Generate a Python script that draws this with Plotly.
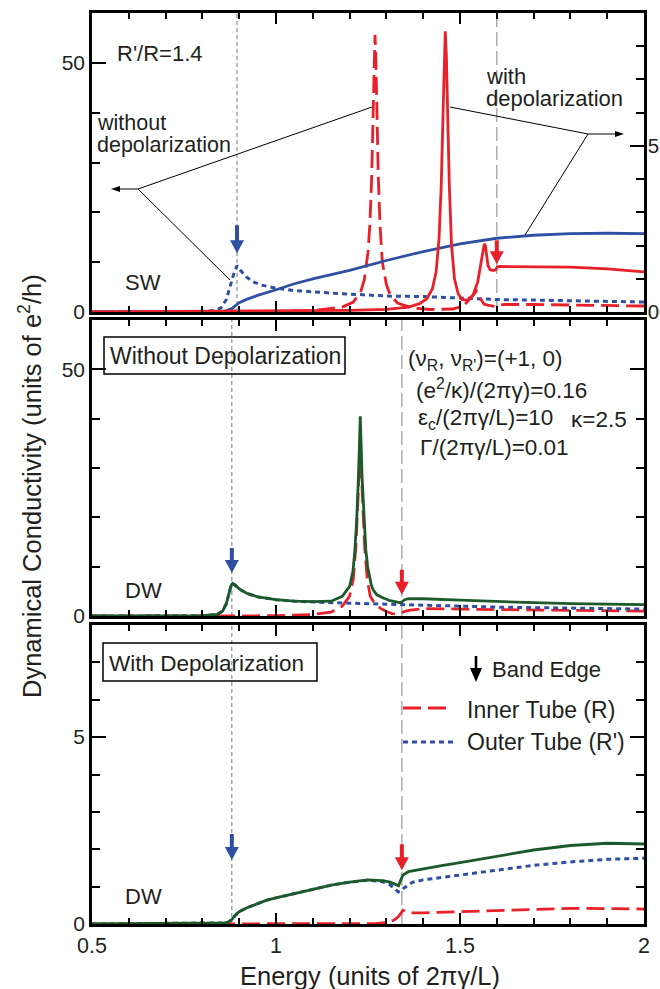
import plotly.graph_objects as go

FONT = "Liberation Sans, Arial, Helvetica, sans-serif"
TXT = "#231f20"
RED = "#e8202a"
BLUE = "#2f4fa2"
GREEN = "#1c5a2a"

# ---------------- axis ticks ----------------
x_tick_vals = [0.5, 1.0, 1.5, 2.0]
x_tick_text = ["0.5", "1", "1.5", "2"]
y_big_ticks = [0, 50]
y_small_ticks = [0, 5]

# ---------------- band edges ----------------
sw_edges = [0.894, 1.600]     # outer (R'), inner (R)
dw_edges = [0.880, 1.342]

# ---------------- SW panel (top) ----------------
# without depolarization, outer tube (left axis)
sw_out_wo_x = [0.5, 0.7, 0.8, 0.83, 0.85, 0.865, 0.875, 0.885, 0.894, 0.905, 0.92, 0.94, 0.96,
               1.0, 1.05, 1.1, 1.15, 1.2, 1.3, 1.4, 1.5, 1.6, 1.7, 1.8, 1.9, 2.0]
sw_out_wo_y = [0.0, 0.0, 0.1, 0.3, 0.8, 2.5, 5.0, 7.6, 9.3, 8.2, 7.0, 6.0, 5.4,
               4.8, 4.3, 4.0, 3.8, 3.6, 3.2, 3.1, 2.8, 2.5, 2.4, 2.3, 2.1, 2.0]
# without depolarization, inner tube (left axis)
sw_in_wo_x = [0.5, 0.9, 1.1, 1.18, 1.21, 1.23, 1.24, 1.25, 1.255, 1.26, 1.264, 1.267, 1.269,
              1.271, 1.274, 1.278, 1.283, 1.289, 1.3, 1.31, 1.33, 1.37, 1.42, 1.48, 1.51,
              1.525, 1.545, 1.555, 1.565, 1.575, 1.585, 1.595, 1.605, 1.62, 1.7, 1.8, 1.9, 2.0]
sw_in_wo_y = [0.0, 0.0, 0.3, 1.0, 2.0, 4.0, 6.5, 12.0, 17.5, 27.0, 40.0, 52.0, 55.6,
              52.0, 40.0, 27.0, 17.0, 10.0, 5.5, 3.5, 1.8, 0.8, 0.5, 0.6, 1.2,
              2.5, 4.2, 2.8, 1.6, 1.4, 1.2, 1.1, 1.4, 1.5, 1.5, 1.4, 1.3, 1.2]
# with depolarization, outer tube (right axis)
sw_out_w_x = [0.5, 0.8, 0.86, 0.88, 0.89, 0.9, 0.92, 0.95, 1.0, 1.05, 1.1, 1.15, 1.2,
              1.3, 1.4, 1.5, 1.6, 1.7, 1.8, 1.9, 2.0]
sw_out_w_y = [0.0, 0.0, 0.02, 0.1, 0.2, 0.28, 0.38, 0.5, 0.67, 0.85, 1.0, 1.12, 1.25,
              1.55, 1.82, 2.05, 2.22, 2.31, 2.36, 2.37, 2.36]
# with depolarization, inner tube (right axis)
sw_in_w_x = [0.5, 1.0, 1.2, 1.3, 1.36, 1.39, 1.41, 1.425, 1.435, 1.443, 1.449, 1.454, 1.457,
             1.460, 1.463, 1.466, 1.471, 1.477, 1.485, 1.495, 1.505, 1.52, 1.535, 1.548,
             1.556, 1.562, 1.566, 1.569, 1.572, 1.576, 1.582, 1.59, 1.597, 1.601, 1.606,
             1.62, 1.7, 1.8, 1.9, 2.0]
sw_in_w_y = [0.0, 0.02, 0.05, 0.08, 0.15, 0.25, 0.4, 0.7, 1.2, 2.2, 3.8, 6.0, 7.7,
             8.45, 7.7, 6.0, 3.8, 2.0, 1.0, 0.55, 0.38, 0.35, 0.5, 0.9,
             1.4, 1.8, 2.05, 2.0, 1.7, 1.4, 1.27, 1.25, 1.27, 1.35, 1.37,
             1.37, 1.37, 1.35, 1.3, 1.21]

# ---------------- DW without depolarization (middle) ----------------
dw_wo_tot_x = [0.5, 0.8, 0.84, 0.855, 0.865, 0.872, 0.878, 0.882, 0.89, 0.9, 0.92, 0.95,
               1.0, 1.05, 1.1, 1.15, 1.18, 1.2, 1.209, 1.214, 1.219, 1.224, 1.229, 1.234,
               1.239, 1.244, 1.249, 1.254, 1.259, 1.264, 1.274, 1.29, 1.31, 1.33, 1.338,
               1.343, 1.35, 1.36, 1.4, 1.5, 1.6, 1.7, 1.8, 1.9, 2.0]
dw_wo_tot_y = [0.0, 0.05, 0.3, 1.0, 2.5, 4.5, 6.2, 6.6, 6.2, 5.5, 4.6, 3.9,
               3.3, 3.0, 2.9, 3.0, 4.0, 6.0, 9.0, 13.0, 19.0, 28.0, 40.5, 28.0,
               19.0, 13.5, 10.0, 7.8, 6.3, 5.3, 4.3, 3.7, 3.1, 2.8, 2.7,
               2.9, 3.3, 3.5, 3.5, 3.2, 2.9, 2.7, 2.5, 2.4, 2.3]
dw_wo_out_x = [0.5, 0.8, 0.84, 0.855, 0.865, 0.872, 0.878, 0.882, 0.89, 0.9, 0.92, 0.95,
               1.0, 1.05, 1.1, 1.15, 1.2, 1.25, 1.3, 1.35, 1.4, 1.5, 1.6, 1.7, 1.8, 1.9, 2.0]
dw_wo_out_y = [0.0, 0.05, 0.3, 1.0, 2.5, 4.5, 6.2, 6.6, 6.2, 5.5, 4.6, 3.9,
               3.3, 3.0, 2.8, 2.7, 2.6, 2.5, 2.4, 2.3, 2.2, 1.9, 1.8, 1.7, 1.6, 1.5, 1.4]
dw_wo_in_x = [0.5, 1.0, 1.1, 1.15, 1.18, 1.2, 1.21, 1.217, 1.223, 1.229, 1.235, 1.241,
              1.248, 1.256, 1.27, 1.283, 1.3, 1.315, 1.328, 1.34, 1.352, 1.365, 1.4,
              1.45, 1.5, 1.6, 1.7, 1.8, 1.9, 2.0]
dw_wo_in_y = [0.0, 0.05, 0.3, 0.8, 2.0, 4.0, 7.5, 14.0, 24.0, 34.0, 24.0, 14.0,
              7.5, 4.0, 2.4, 1.6, 0.9, 0.5, 0.4, 0.6, 1.0, 1.2, 1.5,
              1.5, 1.4, 1.3, 1.2, 1.1, 1.0, 1.0]

# ---------------- DW with depolarization (bottom) ----------------
dw_w_tot_x = [0.5, 0.8, 0.84, 0.86, 0.87, 0.88, 0.89, 0.9, 0.92, 0.95, 0.975, 1.0, 1.05,
              1.1, 1.15, 1.2, 1.25, 1.29, 1.31, 1.325, 1.333, 1.338, 1.345, 1.36, 1.4,
              1.45, 1.5, 1.6, 1.7, 1.8, 1.9, 2.0]
dw_w_tot_y = [0.0, 0.01, 0.02, 0.03, 0.05, 0.12, 0.24, 0.33, 0.43, 0.55, 0.64, 0.7, 0.82,
              0.93, 1.04, 1.12, 1.18, 1.16, 1.12, 1.06, 1.02, 1.15, 1.31, 1.40, 1.48,
              1.56, 1.64, 1.82, 1.98, 2.1, 2.16, 2.14]
dw_w_out_x = [0.5, 0.8, 0.84, 0.86, 0.87, 0.88, 0.89, 0.9, 0.92, 0.95, 0.975, 1.0, 1.05,
              1.1, 1.15, 1.2, 1.25, 1.29, 1.31, 1.325, 1.332, 1.34, 1.345, 1.36, 1.372,
              1.4, 1.446, 1.5, 1.6, 1.7, 1.8, 1.9, 2.0]
dw_w_out_y = [0.0, 0.01, 0.02, 0.03, 0.05, 0.12, 0.24, 0.33, 0.43, 0.55, 0.64, 0.7, 0.82,
              0.93, 1.04, 1.12, 1.17, 1.13, 1.05, 0.92, 0.86, 0.88, 0.94, 1.05, 1.12,
              1.18, 1.24, 1.32, 1.45, 1.57, 1.66, 1.73, 1.76]
dw_w_in_x = [0.5, 1.2, 1.27, 1.3, 1.32, 1.333, 1.34, 1.345, 1.352, 1.365, 1.4, 1.5,
             1.6, 1.7, 1.8, 1.9, 2.0]
dw_w_in_y = [0.0, 0.0, 0.01, 0.04, 0.1, 0.2, 0.3, 0.37, 0.34, 0.3, 0.3, 0.33,
             0.37, 0.4, 0.42, 0.41, 0.4]

# arrow tip heights (in each panel's left-axis units)
sw_arrow_tips = [11.8, 9.6]
dw_wo_arrow_tips = [8.7, 4.3]
dw_w_arrow_tips = [1.71, 1.44]

# ---------------- geometry helpers ----------------
L, R, T, B = 92, 644, 13, 924
W, H = 660, 989


def px(x):
    return (x - L) / (R - L)


def py(y):
    return (B - y) / (B - T)


DASH_R = "18px,7px"
DASH_B = "5px,4px"
LW = 2.8

fig = go.Figure()


def add(x, y, xa, ya, color, dash=None, width=LW):
    fig.add_trace(go.Scatter(x=x, y=y, xaxis=xa, yaxis=ya, mode="lines",
                             line=dict(color=color, width=width, dash=dash),
                             showlegend=False, hoverinfo="skip"))


# top panel
add(sw_out_wo_x, sw_out_wo_y, "x3", "y3", BLUE, DASH_B, 3)
add(sw_out_w_x, sw_out_w_y, "x3", "y4", BLUE)
add(sw_in_wo_x, sw_in_wo_y, "x3", "y3", RED, DASH_R)
add(sw_in_w_x, sw_in_w_y, "x3", "y4", RED)
# middle panel
add(dw_wo_in_x, dw_wo_in_y, "x2", "y2", RED, DASH_R)
add(dw_wo_out_x, dw_wo_out_y, "x2", "y2", BLUE, DASH_B, 3)
add(dw_wo_tot_x, dw_wo_tot_y, "x2", "y2", GREEN)
# bottom panel
add(dw_w_in_x, dw_w_in_y, "x", "y", RED, DASH_R)
add(dw_w_out_x, dw_w_out_y, "x", "y", BLUE, DASH_B, 3)
add(dw_w_tot_x, dw_w_tot_y, "x", "y", GREEN)

axis_common = dict(showline=True, linecolor="black", linewidth=2.5, ticks="inside",
                   tickcolor="black", tickwidth=1.5, showgrid=False, zeroline=False)

xcommon = dict(axis_common, range=[0.5, 2.0], tickvals=x_tick_vals, ticktext=x_tick_text,
               ticklen=11, mirror="ticks", tickfont=dict(family=FONT, size=21.5, color=TXT),
               minor=dict(dtick=0.1, tick0=0.5, ticklen=6, ticks="inside", tickwidth=1.5,
                          tickcolor="black"))

d_bot = [0.0, (B - 625) / (B - T)]
d_mid = [(B - 616) / (B - T), (B - 320) / (B - T)]
d_top = [(B - 312) / (B - T), 1.0]

ycommon = dict(axis_common, ticklen=14, tickfont=dict(family=FONT, size=21, color=TXT))
yminor_big = dict(dtick=10, ticklen=8, ticks="inside", tickwidth=1.5, tickcolor="black")
yminor_small = dict(dtick=1, ticklen=8, ticks="inside", tickwidth=1.5, tickcolor="black")

fig.update_layout(
    width=W, height=H,
    margin=dict(l=L, r=W - R, t=T, b=H - B),
    paper_bgcolor="white", plot_bgcolor="white",
    font=dict(family=FONT, size=20, color=TXT),
    showlegend=False,
    xaxis=dict(xcommon, anchor="y", domain=[0, 1]),
    xaxis2=dict(xcommon, anchor="y2", domain=[0, 1], matches="x", showticklabels=False),
    xaxis3=dict(xcommon, anchor="y3", domain=[0, 1], matches="x", showticklabels=False),
    yaxis=dict(ycommon, domain=d_bot, range=[0, 8], tickvals=y_small_ticks, mirror="ticks",
               minor=yminor_small),
    yaxis2=dict(ycommon, domain=d_mid, range=[0, 60], tickvals=y_big_ticks, mirror="ticks",
                minor=yminor_big),
    yaxis3=dict(ycommon, domain=d_top, range=[0, 60], tickvals=y_big_ticks, anchor="x3",
                minor=yminor_big),
    yaxis4=dict(ycommon, overlaying="y3", side="right", anchor="x3", range=[0, 9],
                tickvals=y_small_ticks, minor=yminor_small, ticklabelstandoff=-3,
                tickfont=dict(family=FONT, size=20.5, color=TXT)),
)
for k in ["xaxis", "xaxis2", "xaxis3", "yaxis", "yaxis2", "yaxis3", "yaxis4"]:
    fig.layout[k].automargin = False

shapes = []
# vertical band-edge guide lines
for xr, yr, edges in [("x3", "y3 domain", sw_edges), ("x2", "y2 domain", dw_edges),
                      ("x", "y domain", dw_edges)]:
    shapes.append(dict(type="line", xref=xr, yref=yr, x0=edges[0], x1=edges[0], y0=0, y1=1,
                       line=dict(color="#777777", width=1, dash="4px,3px"), layer="below"))
    shapes.append(dict(type="line", xref=xr, yref=yr, x0=edges[1], x1=edges[1], y0=0, y1=1,
                       line=dict(color="#999999", width=1.2, dash="14px,5px"), layer="below"))


def down_arrow(xref, yref, xa, ya, color, total=28, head=13, half=7, shaft=2.0):
    path = (f"M{-shaft},{total} L{shaft},{total} L{shaft},{head} L{half},{head} "
            f"L0,0 L{-half},{head} L{-shaft},{head} Z")
    return dict(type="path", xref=xref, yref=yref, xsizemode="pixel", ysizemode="pixel",
                xanchor=xa, yanchor=ya, path=path, fillcolor=color, line=dict(width=0))


shapes.append(down_arrow("x3", "y3", sw_edges[0], sw_arrow_tips[0], BLUE))
shapes.append(down_arrow("x3", "y3", sw_edges[1], sw_arrow_tips[1], RED, total=24))
shapes.append(down_arrow("x2", "y2", dw_edges[0], dw_wo_arrow_tips[0], BLUE, total=25))
shapes.append(down_arrow("x2", "y2", dw_edges[1], dw_wo_arrow_tips[1], RED, total=25))
shapes.append(down_arrow("x", "y", dw_edges[0], dw_w_arrow_tips[0], BLUE, total=26))
shapes.append(down_arrow("x", "y", dw_edges[1], dw_w_arrow_tips[1], RED, total=26))
# legend arrow
shapes.append(down_arrow("paper", "paper", px(476), py(682), "black", total=26, head=14,
                         half=6, shaft=1.3))


def pline(x0, y0, x1, y1, color="black", width=1, dash=None):
    return dict(type="line", xref="paper", yref="paper", x0=px(x0), y0=py(y0), x1=px(x1),
                y1=py(y1), line=dict(color=color, width=width, dash=dash))


# leader lines
shapes += [pline(138, 189, 372, 107), pline(138, 189, 230, 280), pline(138, 189, 118, 189),
           pline(588, 134, 450, 107), pline(588, 134, 525, 235), pline(588, 134, 617, 134)]
# small arrowheads
shapes.append(dict(type="path", xref="paper", yref="paper", xsizemode="pixel",
                   ysizemode="pixel", xanchor=px(111), yanchor=py(189),
                   path="M0,0 L9,3 L9,-3 Z", fillcolor="black", line=dict(width=0)))
shapes.append(dict(type="path", xref="paper", yref="paper", xsizemode="pixel",
                   ysizemode="pixel", xanchor=px(624), yanchor=py(134),
                   path="M0,0 L-9,3 L-9,-3 Z", fillcolor="black", line=dict(width=0)))
# boxes
shapes.append(dict(type="rect", xref="paper", yref="paper", x0=px(104), x1=px(345),
                   y0=py(374), y1=py(337), line=dict(color="black", width=1.5)))
shapes.append(dict(type="rect", xref="paper", yref="paper", x0=px(103), x1=px(317),
                   y0=py(681), y1=py(643), line=dict(color="black", width=1.5)))
# legend samples
shapes.append(pline(403, 708, 453, 708, RED, LW, DASH_R))
shapes.append(pline(403, 742, 453, 742, BLUE, 3, DASH_B))
fig.update_layout(shapes=shapes)

ann = []


def text(x, y, s, size=22, xanchor="left", angle=0):
    ann.append(dict(xref="paper", yref="paper", x=px(x), y=py(y), text=s, showarrow=False,
                    xanchor=xanchor, yanchor="middle", textangle=angle, align="left",
                    borderpad=0, font=dict(family=FONT, size=size, color=TXT)))


text(116, 53, "R'/R=1.4", 22)
text(96, 123, "without", 21.5)
text(96, 145, "depolarization", 21.5)
text(485, 77, "with", 22)
text(485, 99, "depolarization", 22)
text(124, 282, "SW", 22)
text(109, 356, "Without Depolarization", 23)
text(407, 360, "(ν<sub>R</sub>, ν<sub>R'</sub>)=(+1, 0)", 22.5)
text(415, 389, "(e<sup>2</sup>/κ)/(2πγ)=0.16", 22.5)
text(417, 419, "ε<sub>c</sub>/(2πγ/L)=10", 22.5)
text(570, 419, "κ=2.5", 22.5)
text(419, 447, "Γ/(2πγ/L)=0.01", 22.5)
text(124, 590, "DW", 22)
text(108, 663, "With Depolarization", 22.5)
text(124, 896, "DW", 22)
text(491, 669, "Band Edge", 22)
text(466, 710, "Inner Tube (R)", 23)
text(466, 742, "Outer Tube (R')", 23)
text(370, 976, "Energy (units of 2πγ/L)", 25.5, xanchor="center")
text(30, 486, "Dynamical Conductivity (units of e<sup>2</sup>/h)", 25.5, xanchor="center",
     angle=-90)
fig.update_layout(annotations=ann)

fig.write_html("out.html", config={"displayModeBar": False},
               post_script="document.body.style.margin='0px';document.body.style.overflow='hidden';")
